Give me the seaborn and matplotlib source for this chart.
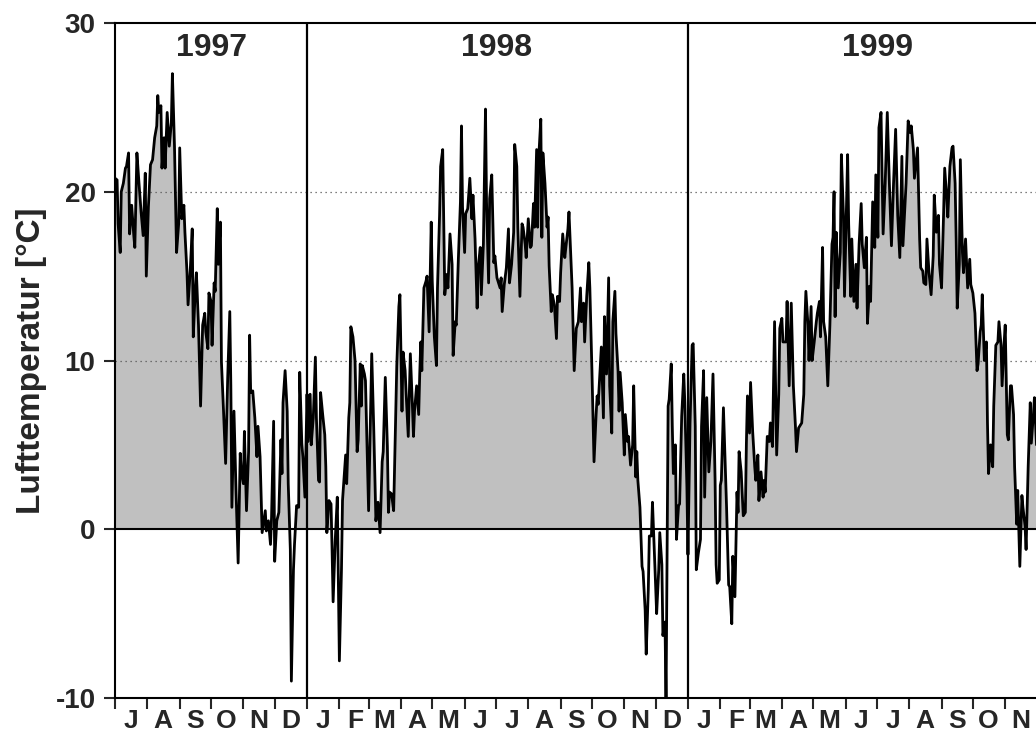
import matplotlib
matplotlib.use("Agg")
import matplotlib.pyplot as plt
import seaborn as sns
import numpy as np
import pandas as pd

# ── Daten: Tage seit 1997-07-01 und Lufttemperatur [°C] ──
START = pd.Timestamp("1997-07-01")

tag_1997 = [0, 2, 3, 5, 6, 8, 10, 11, 13, 14, 16, 18, 19, 21, 23, 25, 27, 29, 30, 32,
            34, 36, 38, 40, 41, 42, 44, 45, 47, 48, 50, 52, 54, 55, 57, 59, 61, 62, 64, 66,
            67, 69, 70, 72, 74, 75, 77, 78, 80, 82, 84, 86, 87, 89, 90, 92, 93, 95, 96, 98,
            99, 101, 102, 104, 106, 108, 110, 111, 112, 114, 116, 118, 120, 121, 123, 124, 126, 128, 129, 130,
            132, 134, 136, 137, 139, 141, 144, 145, 147, 149, 150, 152, 153, 155, 157, 158, 159, 160, 161, 163,
            165, 166, 168, 169, 171, 172, 174, 176, 177, 179, 180, 182]
temp_1997 = [20.8, 20.7, 18.1, 16.4, 20.0, 20.5, 21.4, 21.5, 22.3, 17.5, 19.2, 17.4, 16.7, 22.3, 20.5, 18.8, 17.4, 21.1, 15.0, 19.1,
             21.6, 21.9, 23.2, 23.9, 25.7, 24.7, 25.1, 21.4, 23.2, 21.4, 24.7, 22.7, 24.1, 27.0, 22.7, 16.4, 18.1, 22.6, 18.4, 19.2,
             17.6, 15.2, 13.3, 15.2, 17.8, 11.4, 14.3, 15.2, 12.1, 7.3, 12.1, 12.8, 11.7, 10.7, 14.0, 13.5, 10.9, 14.6, 14.1, 19.0,
             15.7, 18.2, 9.9, 7.0, 3.9, 9.0, 12.9, 8.5, 1.3, 7.0, 2.2, -2.0, 4.5, 3.4, 2.7, 5.8, 1.1, 4.6, 11.5, 8.1,
             8.2, 6.6, 4.3, 6.1, 4.3, -0.2, 1.1, -0.1, 0.5, -0.9, 0.7, 6.4, -1.9, 0.5, 1.0, 3.2, 5.3, 3.3, 7.5, 9.4,
             7.0, 2.7, -1.2, -9.0, -2.4, -0.9, 1.4, 1.3, 9.3, 5.1, 4.3, 1.9]

tag_1998 = [184, 185, 187, 188, 190, 192, 193, 195, 196, 197, 199, 201, 202, 203, 205, 207, 208, 209, 211, 213,
            215, 217, 218, 219, 221, 222, 224, 225, 226, 228, 230, 232, 233, 235, 236, 237, 239, 240, 242, 243,
            245, 246, 248, 249, 250, 252, 254, 256, 257, 259, 261, 262, 263, 265, 267, 268, 270, 272, 273, 275,
            276, 278, 279, 281, 283, 285, 286, 287, 289, 291, 292, 293, 294, 296, 298, 299, 301, 303, 304, 306,
            308, 309, 311, 312, 314, 315, 316, 318, 319, 321, 323, 324, 326, 327, 329, 331, 332, 333, 335, 336,
            338, 340, 342, 343, 345, 347, 348, 350, 351, 353, 355, 356, 358, 359, 361, 363, 364, 366, 367, 369,
            370, 371, 373, 375, 377, 378, 380, 382, 383, 385, 386, 388, 390, 391, 393, 394, 396, 398, 399, 401,
            402, 404, 405, 406, 408, 409, 410, 412, 414, 415, 416, 418, 419, 421, 423, 424, 426, 427, 429, 431,
            432, 434, 435, 438, 440, 442, 444, 446, 447, 449, 450, 452, 454, 455, 457, 459, 461, 462, 463, 465,
            466, 468, 469, 471, 472, 473, 474, 476, 477, 479, 480, 482, 483, 484, 486, 488, 489, 491, 492, 494,
            496, 497, 499, 500, 501, 503, 505, 506, 508, 509, 511, 512, 514, 515, 516, 518, 519, 521, 522, 524,
            525, 527, 528, 530, 531, 533, 534, 535, 537, 538, 540, 541, 543, 545, 546, 548]
temp_1998 = [8.0, 5.2, 8.0, 5.0, 6.6, 10.2, 6.6, 2.9, 2.8, 8.1, 6.8, 5.6, 3.7, -0.2, 1.7, 1.5, -1.2, -4.3, -0.7, 1.9,
             -7.8, -2.4, 1.7, 2.6, 4.4, 2.7, 6.6, 7.5, 12.0, 11.4, 10.0, 4.6, 5.3, 9.8, 7.3, 9.7, 9.2, 8.8, 3.7, 1.1,
             7.3, 10.4, 5.8, 3.1, 0.5, 1.6, -0.2, 4.0, 4.6, 9.0, 4.9, 1.0, 2.2, 2.1, 1.1, 3.9, 9.7, 13.2, 13.9, 7.0,
             10.5, 9.4, 8.0, 5.5, 10.4, 7.3, 5.5, 7.0, 8.5, 6.8, 9.2, 11.1, 9.4, 14.3, 14.7, 15.0, 11.7, 18.2, 14.7, 11.4,
             9.7, 14.3, 18.6, 21.5, 22.5, 18.1, 13.9, 15.1, 14.3, 17.5, 15.7, 10.3, 12.3, 12.1, 16.0, 19.4, 23.9, 19.1, 16.4, 18.7,
             19.0, 20.8, 18.4, 19.8, 17.2, 13.1, 15.5, 16.7, 13.9, 16.9, 24.9, 19.4, 14.6, 19.6, 21.0, 15.8, 16.2, 14.9, 14.7, 14.3,
             14.9, 12.9, 14.5, 15.5, 17.8, 14.6, 15.7, 17.6, 22.8, 21.5, 17.9, 13.8, 18.1, 17.9, 16.9, 16.1, 18.4, 16.7, 16.8, 19.3,
             17.9, 22.5, 17.9, 22.0, 24.3, 17.3, 22.3, 20.5, 17.9, 18.5, 15.6, 12.9, 13.9, 13.3, 11.3, 13.8, 13.5, 15.2, 17.5, 16.1,
             16.7, 17.8, 18.8, 14.3, 9.4, 11.9, 12.3, 14.3, 12.3, 13.4, 11.1, 13.8, 15.8, 14.3, 9.4, 4.0, 6.8, 7.9, 7.4, 9.6,
             10.8, 6.6, 12.6, 9.2, 12.1, 14.9, 8.5, 5.7, 12.3, 14.1, 11.6, 9.4, 7.0, 9.3, 7.5, 4.4, 6.8, 5.2, 5.5, 3.8,
             5.0, 8.5, 3.1, 4.6, 2.9, 1.3, -2.2, -2.5, -4.8, -7.4, -3.6, -0.4, -0.4, 1.6, 0.0, -3.3, -5.0, -2.4, -0.2, -2.1,
             -6.3, -5.5, -10.3, 7.3, 7.7, 9.8, 6.1, 3.3, 5.0, -0.6, 1.4, 1.5, 6.7, 9.2, 7.5, 2.5]

tag_1999 = [549, 551, 553, 554, 556, 557, 559, 561, 562, 564, 565, 567, 569, 571, 573, 575, 576, 577, 579, 580,
            581, 583, 586, 588, 589, 591, 592, 594, 596, 597, 598, 600, 602, 604, 605, 606, 608, 609, 611, 613,
            614, 616, 617, 619, 621, 622, 623, 625, 627, 628, 630, 632, 634, 636, 637, 639, 640, 643, 644, 646,
            648, 650, 652, 653, 655, 656, 658, 660, 661, 662, 664, 665, 667, 668, 670, 672, 673, 675, 676, 678,
            679, 681, 683, 685, 687, 688, 689, 690, 691, 693, 695, 696, 698, 699, 702, 703, 705, 706, 708, 710,
            711, 713, 715, 716, 718, 720, 721, 723, 724, 726, 728, 729, 731, 732, 734, 736, 738, 740, 742, 744,
            746, 748, 750, 752, 754, 755, 758, 760, 762, 763, 765, 766, 769, 771, 772, 774, 775, 777, 778, 780,
            782, 784, 785, 787, 789, 790, 792, 794, 795, 797, 798, 800, 802, 803, 805, 806, 807, 809, 810, 812,
            813, 815, 817, 819, 820, 822, 824, 826, 827, 829, 830, 831, 833, 835, 836, 837, 839, 841, 842, 844,
            846, 847, 849, 850, 852, 853, 855, 856, 858, 859, 861, 862, 864, 865, 867, 869, 870, 872, 873, 875,
            877, 878, 880, 881, 883]
temp_1999 = [-1.5, 6.3, 10.9, 11.0, 6.1, -2.4, -1.4, -0.6, 6.1, 9.4, 1.9, 7.8, 3.4, 5.2, 9.2, 2.9, -2.1, -3.2, -3.0, 2.6,
             2.9, 7.2, 1.3, -3.3, -3.4, -5.6, -1.6, -4.0, 2.2, 1.0, 4.6, 3.4, 0.8, 1.0, 5.1, 7.9, 5.7, 8.7, 5.8, 3.7,
             2.9, 4.4, 1.7, 3.4, 1.9, 2.9, 2.2, 5.5, 5.2, 6.3, 4.9, 12.3, 4.4, 8.0, 11.9, 12.5, 11.1, 11.1, 13.5, 8.5,
             13.4, 8.5, 6.1, 4.6, 6.0, 6.1, 6.3, 8.0, 12.3, 14.1, 12.1, 10.0, 13.2, 10.0, 11.1, 12.3, 12.8, 13.5, 11.4, 16.7,
             12.3, 11.4, 8.5, 12.1, 16.9, 17.3, 20.0, 12.6, 17.6, 14.3, 16.4, 22.2, 18.6, 13.8, 22.2, 18.1, 13.8, 17.2, 13.5, 15.7,
             13.1, 16.9, 19.3, 16.9, 15.5, 17.3, 12.2, 14.4, 13.5, 19.4, 16.7, 21.0, 17.3, 23.8, 24.7, 17.5, 20.5, 24.7, 20.5, 16.8,
             20.5, 23.7, 18.6, 16.1, 22.1, 16.8, 20.5, 24.2, 23.5, 23.9, 22.5, 20.8, 22.6, 17.2, 15.5, 15.3, 14.6, 14.5, 17.2, 15.2,
             13.9, 16.2, 19.8, 17.6, 18.6, 15.7, 14.3, 18.8, 21.4, 19.6, 18.5, 21.5, 22.6, 22.7, 20.5, 17.2, 13.1, 15.7, 21.9, 16.4,
             15.2, 17.2, 14.3, 16.0, 14.5, 14.0, 12.8, 9.4, 9.8, 11.7, 12.1, 13.9, 10.0, 11.1, 6.3, 3.3, 5.0, 3.7, 7.3, 10.9,
             11.1, 12.3, 10.9, 8.5, 11.1, 12.1, 5.6, 5.3, 8.5, 8.5, 6.8, 3.7, 0.3, 2.3, -2.2, 2.0, 1.3, 0.2, -1.2, 3.7,
             7.5, 5.1, 6.8, 7.8, 5.0]

MONATE = "JFMAMJJASOND"
JAHRE = ["1997", "1998", "1999"]
JAHR_MITTE = ["1997-10-01", "1998-07-02", "1999-07-02"]

df = pd.DataFrame({
    "tag": tag_1997 + tag_1998 + tag_1999,
    "temp": temp_1997 + temp_1998 + temp_1999,
})
df["datum"] = START + pd.to_timedelta(df["tag"], unit="D")

# ── Stil ─────────────────────────────────────────────────────────
sns.set_style("ticks")
plt.rcParams["font.family"] = ["Liberation Sans", "DejaVu Sans"]
plt.rcParams["font.weight"] = "bold"
plt.rcParams["axes.unicode_minus"] = False

fig = plt.figure(figsize=(10.36, 7.42), dpi=100)
ax = fig.add_axes([0.111, 0.0593, 0.889, 0.9097])

ax.fill_between(df["datum"], df["temp"], 0, where=df["temp"] > 0,
                interpolate=True, color="#c0c0c0", linewidth=0, zorder=1)
sns.lineplot(data=df, x="datum", y="temp", ax=ax, color="black",
             linewidth=2.0, zorder=3)

ax.axhline(0, color="black", linewidth=1.5, zorder=4)
for y in (10, 20):
    ax.axhline(y, color="#555555", linewidth=0.9, linestyle=(0, (1, 3)), zorder=2)
for jahr in ("1998-01-01", "1999-01-01"):
    ax.axvline(pd.Timestamp(jahr), color="black", linewidth=1.6, zorder=4)

ax.set_yticks([-10, 0, 10, 20, 30])
ax.tick_params(axis="y", labelsize=20, length=8, width=1.5, pad=6, direction="out")

# Monatsgrenzen als Striche, Monatsbuchstaben in der Mitte
monatsanfang = pd.date_range("1997-07-01", "1999-12-01", freq="MS")
ax.set_xticks(monatsanfang)
ax.set_xticklabels([])
ax.tick_params(axis="x", which="major", length=8, width=1.5, direction="out")
monatsmitte = monatsanfang + pd.Timedelta(days=15)
ax.set_xticks(monatsmitte, minor=True)
ax.set_xticklabels([MONATE[d.month - 1] for d in monatsmitte], minor=True,
                   fontsize=19, fontweight="bold")
ax.tick_params(axis="x", which="minor", length=0, pad=8)

# Grenzen erst nach set_xticks setzen (sonst werden sie erweitert)
ax.set_xlim(START, START + pd.Timedelta(days=882.5))
ax.set_ylim(-10, 30)

for jahr, mitte in zip(JAHRE, JAHR_MITTE):
    ax.text(pd.Timestamp(mitte), 28.5, jahr, ha="center", va="center",
            fontsize=23, fontweight="bold")

ax.set_xlabel("")
ax.set_ylabel("Lufttemperatur [°C]", fontsize=24, fontweight="bold", labelpad=6)

for side in ("left", "bottom", "top"):
    ax.spines[side].set_linewidth(1.5)
    ax.spines[side].set_color("black")
ax.spines["right"].set_visible(False)

fig.savefig("out.png", dpi=100)
plt.close(fig)
